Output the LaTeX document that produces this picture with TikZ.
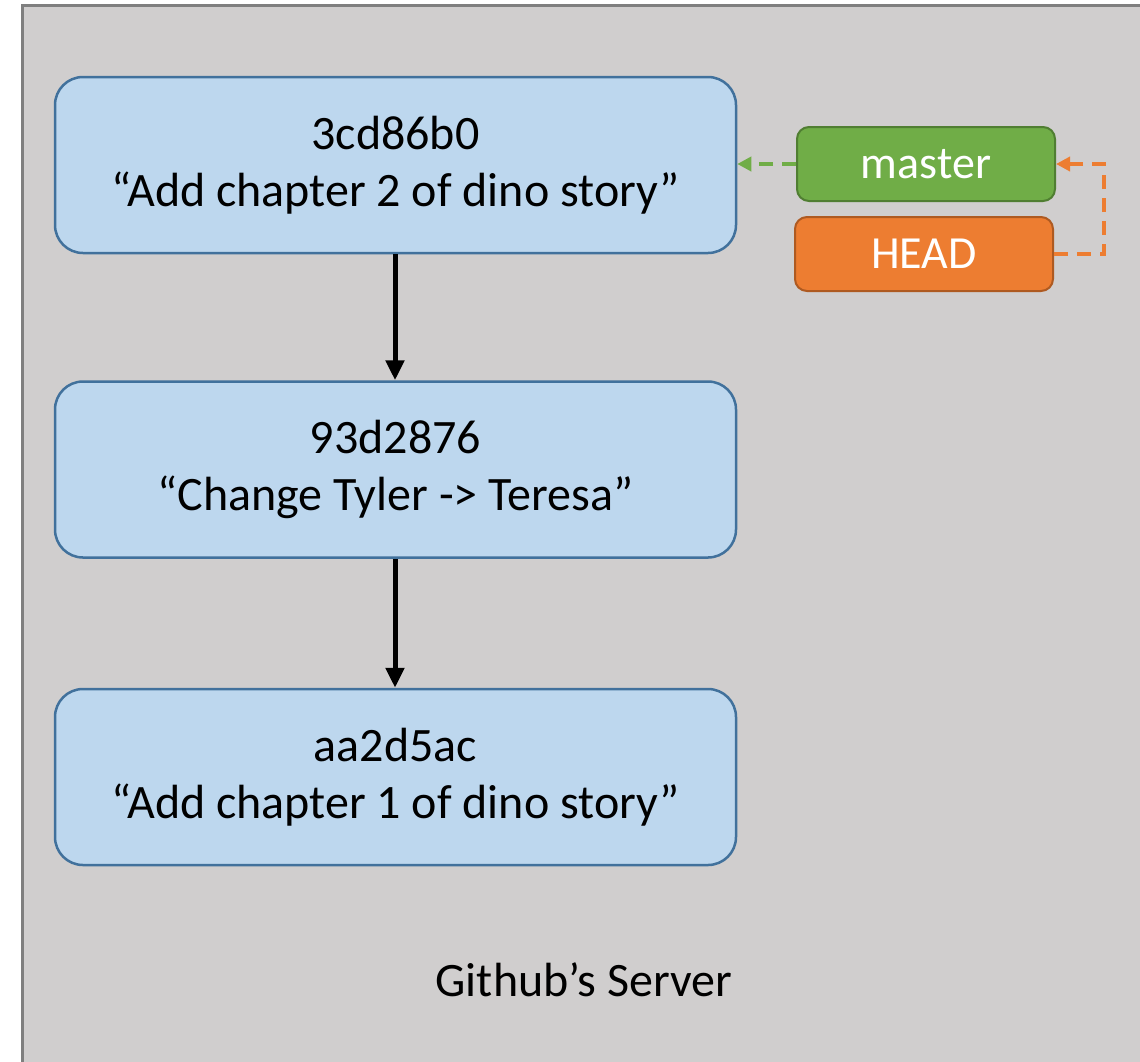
\documentclass[tikz,border=0pt]{standalone}
\usepackage{fontspec}
\setmainfont{Carlito}
\usetikzlibrary{arrows.meta}
\definecolor{panelfill}{HTML}{D0CECE}
\definecolor{panelline}{HTML}{7F7F7F}
\definecolor{commitfill}{HTML}{BDD7EE}
\definecolor{commitline}{HTML}{41719C}
\definecolor{masterfill}{HTML}{70AD47}
\definecolor{masterline}{HTML}{507E32}
\definecolor{headfill}{HTML}{ED7D31}
\definecolor{headline}{HTML}{AE5A21}
\tikzset{
  commit/.style={draw=commitline, fill=commitfill, line width=2.5pt, rounded corners=28pt,
    minimum width=681pt, minimum height=176pt, align=center, inner sep=0pt,
    font=\fontsize{48}{57}\selectfont},
  branchbox/.style={line width=2pt, rounded corners=12pt, minimum width=258pt,
    minimum height=74pt, inner sep=0pt, text=white, font=\fontsize{46}{50}\selectfont},
  parent/.style={line width=5pt, -{Triangle[length=20pt,width=18pt]}},
  refline/.style={line width=4.5pt, dash pattern=on 14pt off 9pt,
    -{Triangle[length=14pt,width=14pt]}}
}
\begin{document}
\begin{tikzpicture}[x=1pt,y=-1pt]
\useasboundingbox (0,0) rectangle (1140,1061);
% server panel
\draw[panelline, fill=panelfill, line width=3pt] (22,5) rectangle (1150,1075);
% commits
\node[commit] (c3) at (395.5,165) {3cd86b0\\“Add chapter 2 of dino story”};
\node[commit] (c2) at (395.5,469.5) {93d2876\\“Change Tyler -> Teresa”};
\node[commit] (c1) at (395.5,777) {aa2d5ac\\“Add chapter 1 of dino story”};
% parent links
\draw[parent] (c3.south -| 395,0) -- (c2.north -| 395,0);
\draw[parent] (c2.south -| 395,0) -- (c1.north -| 395,0);
% branch and HEAD
\node[branchbox, draw=masterline, fill=masterfill] (master) at (926,164) {master};
\node[branchbox, draw=headline, fill=headfill] (head) at (924,254) {HEAD};
\coordinate (bend) at (1104,0);
\draw[refline, masterfill] (master.west) -- (master.west -| c3.east);
\draw[refline, headfill] (head.east) -- (head.east -| bend) -- (master.east -| bend) -- (master.east);
% label
\node[font=\fontsize{48}{52}\selectfont] (server) at (584,980) {Github’s Server};
\end{tikzpicture}
\end{document}
